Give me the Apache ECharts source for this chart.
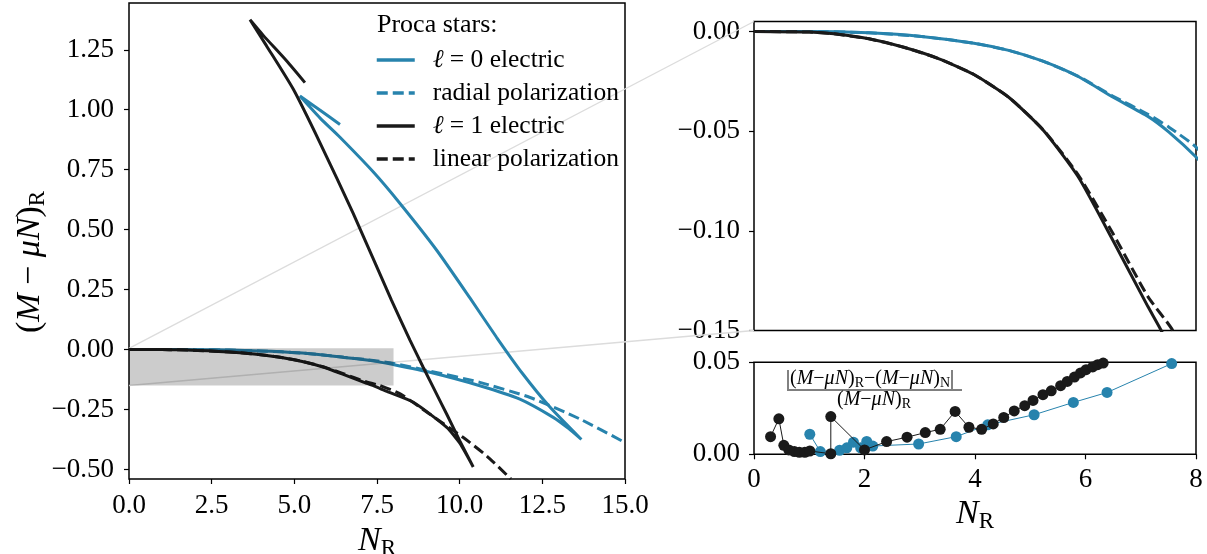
<!DOCTYPE html>
<html>
<head>
<meta charset="utf-8">
<script src="https://cdn.jsdelivr.net/npm/echarts@6/dist/echarts.min.js"></script>
<style>
  html, body { margin: 0; padding: 0; background: #fff; }
  #chart { width: 1207px; height: 554px; }
</style>
</head>
<body>
<div id="chart"></div>
<script>
// l = 0 electric (lower branch, then the steep branch back up, then the short tail)
const l0ElectricX = [0, 1.0, 2.08, 3.03, 3.98, 4.61, 5.24, 5.87, 6.5, 7.13, 7.51, 8.0, 9.1, 10.61, 11.82, 12.83, 13.3, 13.68,
  12.73, 11.9, 11.12, 10.31, 9.3, 8.19, 7.39, 6.38, 5.78, 5.17, 5.78, 6.38];
const l0ElectricY = [0, 0, -0.0007, -0.0025, -0.0059, -0.0095, -0.015, -0.0226, -0.033, -0.0426, -0.0505, -0.063, -0.095, -0.151, -0.207, -0.283, -0.33, -0.375,
  -0.24, -0.1, 0.05, 0.215, 0.415, 0.61, 0.74, 0.885, 0.965, 1.057, 0.998, 0.938];

// radial polarization
const radialX = [0, 1.0, 2.08, 3.03, 3.98, 4.61, 5.24, 5.87, 6.5, 7.13, 7.51, 8.0, 9.1, 10.61, 12.13, 13.64, 15.0];
const radialY = [0, 0, -0.0007, -0.0025, -0.0059, -0.0095, -0.015, -0.0225, -0.0325, -0.0415, -0.048, -0.058, -0.09, -0.137, -0.2, -0.29, -0.388];

// l = 1 electric
const l1ElectricX = [0, 1.0, 1.45, 2.08, 2.71, 3.35, 3.98, 4.61, 5.24, 5.87, 6.5, 7.13, 7.37, 7.8, 8.6, 9.61, 10.0, 10.41,
  10.0, 9.61, 9.3, 8.9, 8.5, 7.94, 6.78, 5.78, 4.97, 4.16, 3.66, 4.06, 4.77, 5.32];
const l1ElectricY = [0, -0.0003, -0.0012, -0.0037, -0.0079, -0.0137, -0.0216, -0.033, -0.0497, -0.073, -0.105, -0.138, -0.15, -0.175, -0.22, -0.325, -0.39, -0.49,
  -0.38, -0.27, -0.185, -0.075, 0.038, 0.205, 0.568, 0.861, 1.085, 1.266, 1.375, 1.31, 1.203, 1.113];

// linear polarization
const linearX = [0, 1.0, 1.45, 2.08, 2.71, 3.35, 3.98, 4.61, 5.24, 5.87, 6.5, 7.13, 7.58, 8.2, 9.1, 10.11, 10.82, 11.55];
const linearY = [0, -0.0003, -0.0012, -0.0037, -0.0079, -0.0137, -0.0216, -0.033, -0.0495, -0.072, -0.1015, -0.133, -0.15, -0.185, -0.27, -0.367, -0.444, -0.54];

// relative differences (lower right panel)
const errL0X = [1.01, 1.20, 1.55, 1.68, 1.80, 1.93, 2.04, 2.15, 2.98, 3.66, 4.23, 5.07, 5.78, 6.39, 7.56];
const errL0Y = [0.0109, 0.0015, 0.0022, 0.0035, 0.0066, 0.0035, 0.007, 0.0045, 0.0056, 0.0096, 0.016, 0.0215, 0.0282, 0.0336, 0.0493];
const errL1X = [0.30, 0.45, 0.54, 0.63, 0.73, 0.82, 0.92, 1.01, 1.39, 1.39, 2.0, 2.40, 2.77, 3.10, 3.37, 3.64, 3.89, 4.12, 4.33, 4.52,
  4.71, 4.90, 5.05, 5.23, 5.38, 5.55, 5.67, 5.80, 5.91, 6.01, 6.13, 6.22, 6.32, 6.42, 6.55];
const errL1Y = [0.0096, 0.0193, 0.0049, 0.0024, 0.0015, 0.0011, 0.0011, 0.0018, 0.0003, 0.0205, 0.0024, 0.0069, 0.0093, 0.0118, 0.0136, 0.0233, 0.0147, 0.0136, 0.0165, 0.02,
  0.0236, 0.0264, 0.0293, 0.0324, 0.0345, 0.0373, 0.0396, 0.042, 0.0442, 0.046, 0.0475, 0.0487, 0.0496, 0.052, 0.055];

// inset box [xmin, xmax, ymin, ymax]
const insetBox = [0, 8, -0.15, 0.005];

// tick values
const mainXTicks = [0, 2.5, 5, 7.5, 10, 12.5, 15];
const mainYTicks = [-0.5, -0.25, 0, 0.25, 0.5, 0.75, 1.0, 1.25];
const zoomYTicks = [-0.15, -0.1, -0.05, 0];
const errXTicks = [0, 2, 4, 6, 8];
const errYTicks = [0, 0.05];

const names = ['ℓ = 0 electric', 'radial polarization', 'ℓ = 1 electric', 'linear polarization'];
const legendRich = {
  'ℓ = 0 electric': '{i|ℓ} = 0 electric',
  'radial polarization': 'radial polarization',
  'ℓ = 1 electric': '{i|ℓ} = 1 electric',
  'linear polarization': 'linear polarization'
};

const BLUE = '#2783ad';
const BLACK = '#1a1a1a';
const SERIF = 'Liberation Serif, DejaVu Serif, serif';
const DASH = [11, 5];
const TICK = 27;

const zip = (xs, ys) => xs.map((x, i) => [x, ys[i]]);
const fmt = (d) => (v) => (v < 0 ? '−' : '') + Math.abs(v).toFixed(d);

const nameRich = {
  i: { fontFamily: SERIF, fontStyle: 'italic', fontSize: 34, color: '#000' },
  a: { fontFamily: SERIF, fontSize: 34, color: '#000' },
  s: { fontFamily: SERIF, fontSize: 23, color: '#000', padding: [16, 0, 0, 0] }
};

function tickStyle(values) {
  return { show: true, length: 5, lineStyle: { color: '#000', width: 1.2 }, customValues: values };
}

function labelStyle(values, digits, margin) {
  return { color: '#000', fontFamily: SERIF, fontSize: TICK, margin: margin, formatter: fmt(digits), customValues: values };
}

function curve(name, data, color, dashed, xi) {
  return {
    name: name,
    type: 'line',
    xAxisIndex: xi,
    yAxisIndex: xi,
    data: data,
    showSymbol: false,
    symbol: 'none',
    smooth: 0.2,
    clip: true,
    lineStyle: { color: color, width: 3, type: dashed ? DASH : 'solid' },
    itemStyle: { color: color, opacity: 0 },
    emphasis: { disabled: true },
    z: 3
  };
}

const chart = echarts.init(document.getElementById('chart'));

const gridBase = { show: true, borderColor: '#000', borderWidth: 1.5, backgroundColor: 'transparent', containLabel: false, outerBoundsMode: 'none' };

const option = {
  animation: false,
  backgroundColor: '#fff',
  grid: [
    Object.assign({ left: 129, top: 3, width: 496, height: 476 }, gridBase),
    Object.assign({ left: 754, top: 21.5, width: 442, height: 309 }, gridBase),
    Object.assign({ left: 754, top: 362.3, width: 442, height: 92 }, gridBase)
  ],
  xAxis: [
    {
      type: 'value', gridIndex: 0, min: 0, max: 15,
      axisLine: { show: false, onZero: false }, splitLine: { show: false },
      name: '{i|N}{s|R}', nameLocation: 'middle', nameGap: 40,
      nameTextStyle: { rich: nameRich },
      axisLabel: labelStyle(mainXTicks, 1, 13),
      axisTick: tickStyle(mainXTicks)
    },
    {
      type: 'value', gridIndex: 1, min: 0, max: 8,
      axisLine: { show: false, onZero: false }, splitLine: { show: false },
      axisLabel: { show: false }, axisTick: { show: false }
    },
    {
      type: 'value', gridIndex: 2, min: 0, max: 8,
      axisLine: { show: false, onZero: false }, splitLine: { show: false },
      name: '{i|N}{s|R}', nameLocation: 'middle', nameGap: 40,
      nameTextStyle: { rich: nameRich },
      axisLabel: labelStyle(errXTicks, 0, 12),
      axisTick: tickStyle(errXTicks)
    }
  ],
  yAxis: [
    {
      type: 'value', gridIndex: 0, min: -0.54, max: 1.445,
      axisLine: { show: false, onZero: false }, splitLine: { show: false },
      axisLabel: labelStyle(mainYTicks, 2, 15),
      axisTick: tickStyle(mainYTicks)
    },
    {
      type: 'value', gridIndex: 1, min: -0.15, max: 0.005,
      axisLine: { show: false, onZero: false }, splitLine: { show: false },
      axisLabel: labelStyle(zoomYTicks, 2, 14),
      axisTick: tickStyle(zoomYTicks)
    },
    {
      type: 'value', gridIndex: 2, min: 0, max: 0.05,
      axisLine: { show: false, onZero: false }, splitLine: { show: false },
      axisLabel: labelStyle(errYTicks, 2, 14),
      axisTick: tickStyle(errYTicks)
    }
  ],
  legend: {
    data: names,
    orient: 'vertical',
    left: 370,
    top: 42,
    itemWidth: 38,
    itemHeight: 14,
    itemGap: 7,
    selectedMode: false,
    formatter: (n) => legendRich[n],
    itemStyle: { opacity: 0 },
    lineStyle: { width: 3.5 },
    textStyle: {
      color: '#000', fontFamily: SERIF, fontSize: 25.5, padding: [0, 0, 0, 13],
      rich: { i: { fontFamily: SERIF, fontStyle: 'italic', fontSize: 25.5, color: '#000' } }
    }
  },
  graphic: [
    { type: 'text', left: 377, top: 12, style: { text: 'Proca stars:', fill: '#000', font: '26px ' + SERIF } },
    {
      type: 'text', x: 30, y: 262, rotation: Math.PI / 2,
      style: {
        text: '{a|(}{i|M}{a| − }{i|μN}{a|)}{s|R}',
        align: 'center', verticalAlign: 'middle',
        rich: nameRich
      }
    },
    {
      type: 'text', left: 786, top: 369,
      style: {
        text: '|({i|M}−{i|μN}){s|R}−({i|M}−{i|μN}){s|N}|',
        fill: '#000', font: '20px ' + SERIF,
        rich: {
          i: { fontFamily: SERIF, fontStyle: 'italic', fontSize: 20, fill: '#000' },
          s: { fontFamily: SERIF, fontSize: 14, fill: '#000', padding: [9, 0, 0, 0] }
        }
      }
    },
    { type: 'line', shape: { x1: 787, y1: 390, x2: 962, y2: 390 }, style: { stroke: '#000', lineWidth: 1 } },
    {
      type: 'text', left: 837, top: 390,
      style: {
        text: '({i|M}−{i|μN}){s|R}',
        fill: '#000', font: '20px ' + SERIF,
        rich: {
          i: { fontFamily: SERIF, fontStyle: 'italic', fontSize: 20, fill: '#000' },
          s: { fontFamily: SERIF, fontSize: 14, fill: '#000', padding: [9, 0, 0, 0] }
        }
      }
    }
  ],
  series: [
    curve(names[0], zip(l0ElectricX, l0ElectricY), BLUE, false, 0),
    curve(names[1], zip(radialX, radialY), BLUE, true, 0),
    curve(names[2], zip(l1ElectricX, l1ElectricY), BLACK, false, 0),
    curve(names[3], zip(linearX, linearY), BLACK, true, 0),
    curve(names[0], zip(l0ElectricX, l0ElectricY), BLUE, false, 1),
    curve(names[1], zip(radialX, radialY), BLUE, true, 1),
    curve(names[2], zip(l1ElectricX, l1ElectricY), BLACK, false, 1),
    curve(names[3], zip(linearX, linearY), BLACK, true, 1),
    {
      name: 'box', type: 'custom', xAxisIndex: 0, yAxisIndex: 0, z: 10, silent: true,
      data: [insetBox],
      renderItem: function (params, api) {
        const p0 = api.coord([api.value(0), api.value(3)]);
        const p1 = api.coord([api.value(1), api.value(2)]);
        return {
          type: 'rect',
          shape: { x: p0[0], y: p0[1], width: p1[0] - p0[0], height: p1[1] - p0[1] },
          style: { fill: 'rgba(0,0,0,0.2)' }
        };
      }
    },
    {
      name: 'errL0', type: 'line', xAxisIndex: 2, yAxisIndex: 2,
      data: zip(errL0X, errL0Y), symbol: 'circle', symbolSize: 11, showSymbol: true, clip: true,
      lineStyle: { color: BLUE, width: 1 }, itemStyle: { color: BLUE }, z: 3
    },
    {
      name: 'errL1', type: 'line', xAxisIndex: 2, yAxisIndex: 2,
      data: zip(errL1X, errL1Y), symbol: 'circle', symbolSize: 11, showSymbol: true, clip: true,
      lineStyle: { color: BLACK, width: 1 }, itemStyle: { color: BLACK }, z: 4
    }
  ]
};

chart.setOption(option);

// connector lines from the inset box in the main panel to the zoomed panel
const boxTop = chart.convertToPixel({ gridIndex: 0 }, [insetBox[0], insetBox[3]]);
const boxBot = chart.convertToPixel({ gridIndex: 0 }, [insetBox[0], insetBox[2]]);
const zoomTop = chart.convertToPixel({ gridIndex: 1 }, [insetBox[0], insetBox[3]]);
const zoomBot = chart.convertToPixel({ gridIndex: 1 }, [insetBox[0], insetBox[2]]);

chart.setOption({
  graphic: option.graphic.concat([
    { type: 'line', z: 1, shape: { x1: boxTop[0], y1: boxTop[1], x2: zoomTop[0], y2: zoomTop[1] }, style: { stroke: '#dcdcdc', lineWidth: 1.3 } },
    { type: 'line', z: 1, shape: { x1: boxBot[0], y1: boxBot[1], x2: zoomBot[0], y2: zoomBot[1] }, style: { stroke: '#dcdcdc', lineWidth: 1.3 } }
  ])
});

window.addEventListener('resize', function () {
  chart.resize();
});
</script>
</body>
</html>
